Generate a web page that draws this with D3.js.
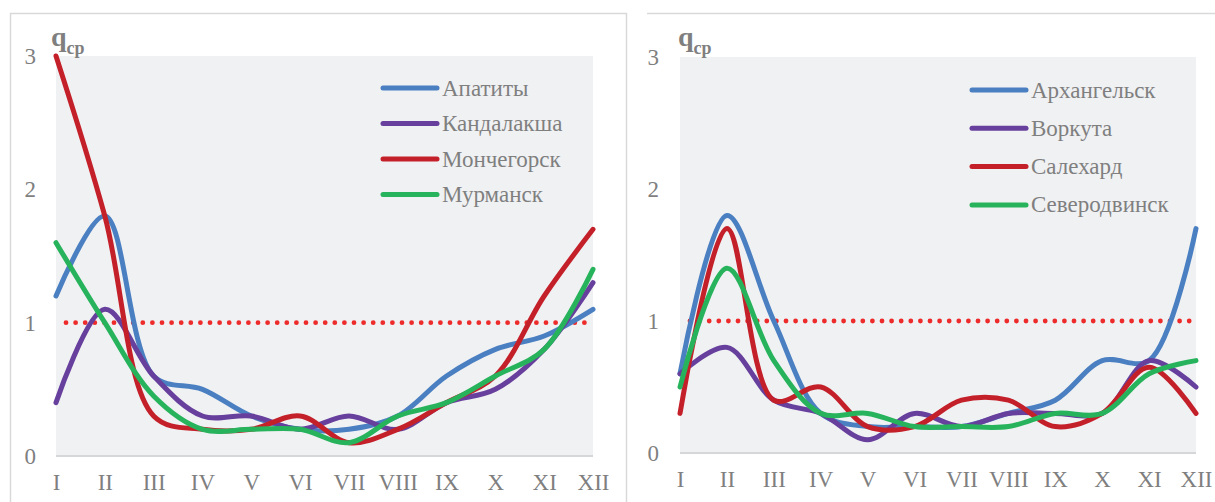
<!DOCTYPE html>
<html>
<head>
<meta charset="utf-8">
<script src="https://cdn.jsdelivr.net/npm/d3@7"></script>
<style>
  html, body { margin: 0; padding: 0; background: #ffffff; }
  svg { display: block; }
  text { font-family: "Liberation Serif", "Times New Roman", serif; fill: #7f7f7f; }
</style>
</head>
<body>
<svg id="chart" width="1215" height="502"></svg>
<script>
// ---- data ----
const months = ["I", "II", "III", "IV", "V", "VI", "VII", "VIII", "IX", "X", "XI", "XII"];
const yTicks = [0, 1, 2, 3];
const threshold = 1;

// left chart (Murmansk region)
const leftNames = ["Апатиты", "Кандалакша", "Мончегорск", "Мурманск"];
const apatity     = [1.2, 1.8, 0.6, 0.5, 0.3, 0.2, 0.2, 0.3, 0.6, 0.8, 0.9, 1.1];
const kandalaksha = [0.4, 1.1, 0.6, 0.3, 0.3, 0.2, 0.3, 0.2, 0.4, 0.5, 0.8, 1.3];
const monchegorsk = [3.0, 1.8, 0.3, 0.2, 0.2, 0.3, 0.1, 0.2, 0.4, 0.6, 1.2, 1.7];
const murmansk    = [1.6, 1.0, 0.45, 0.2, 0.2, 0.2, 0.1, 0.3, 0.4, 0.6, 0.8, 1.4];

// right chart (Arkhangelsk region etc.)
const rightNames = ["Архангельск", "Воркута", "Салехард", "Северодвинск"];
const arkhangelsk  = [0.6, 1.8, 1.0, 0.3, 0.2, 0.2, 0.2, 0.3, 0.4, 0.7, 0.7, 1.7];
const vorkuta      = [0.6, 0.8, 0.4, 0.3, 0.1, 0.3, 0.2, 0.3, 0.3, 0.3, 0.7, 0.5];
const salekhard    = [0.3, 1.7, 0.4, 0.5, 0.2, 0.2, 0.4, 0.4, 0.2, 0.3, 0.65, 0.3];
const severodvinsk = [0.5, 1.4, 0.7, 0.3, 0.3, 0.2, 0.2, 0.2, 0.3, 0.3, 0.6, 0.7];

const colors = ["#4a7fc1", "#673f9c", "#c4202a", "#27b35c"];

// ---- drawing ----
const svg = d3.select("#chart");

// frames
svg.append("rect")
  .attr("x", 10.5).attr("y", 13.5).attr("width", 616).attr("height", 520)
  .attr("fill", "none").attr("stroke", "#d9d9d9").attr("stroke-width", 1.5);
svg.append("line")
  .attr("x1", 647).attr("x2", 1215).attr("y1", 13.5).attr("y2", 13.5)
  .attr("stroke", "#d9d9d9").attr("stroke-width", 1.5);

function drawChart(cfg) {
  const g = svg.append("g");
  const x = d3.scalePoint().domain(months).range([cfg.x0, cfg.x1]).padding(0);
  const y = d3.scaleLinear().domain([0, 3]).range([cfg.yBottom, cfg.yTop]);

  // plot background
  g.append("rect")
    .attr("x", cfg.x0).attr("y", cfg.yTop)
    .attr("width", cfg.x1 - cfg.x0).attr("height", cfg.yBottom - cfg.yTop)
    .attr("fill", "#f0f1f3");

  // baseline
  g.append("line")
    .attr("x1", cfg.x0).attr("x2", cfg.x1)
    .attr("y1", y(0)).attr("y2", y(0))
    .attr("stroke", "#d6d7d9").attr("stroke-width", 2);

  // x axis
  const xAxis = g.append("g")
    .attr("transform", `translate(0,${y(0)})`)
    .call(d3.axisBottom(x).tickSize(0).tickPadding(18));
  xAxis.select(".domain").remove();
  xAxis.selectAll("text")
    .attr("font-size", 23)
    .attr("font-family", "Liberation Serif, Times New Roman, serif")
    .attr("fill", "#7f7f7f");

  // y axis
  const yAxis = g.append("g")
    .attr("transform", `translate(${cfg.x0},0)`)
    .call(d3.axisLeft(y).tickValues(yTicks).tickFormat(d3.format("d")).tickSize(0).tickPadding(cfg.yPad));
  yAxis.select(".domain").remove();
  yAxis.selectAll("text")
    .attr("font-size", 23)
    .attr("font-family", "Liberation Serif, Times New Roman, serif")
    .attr("fill", "#7f7f7f");

  // threshold dotted line
  g.append("line")
    .attr("x1", cfg.x0 + 10).attr("x2", cfg.x1 - 6)
    .attr("y1", y(threshold)).attr("y2", y(threshold))
    .attr("stroke", "#ee2b2b").attr("stroke-width", 4.8)
    .attr("stroke-linecap", "round")
    .attr("stroke-dasharray", "0 9.6");

  // series lines
  const line = d3.line()
    .x((d, i) => x(months[i]))
    .y(d => y(d))
    .curve(d3.curveCatmullRom.alpha(0.5));

  cfg.series.forEach((s, k) => {
    g.append("path")
      .datum(s)
      .attr("d", line)
      .attr("fill", "none")
      .attr("stroke", colors[k])
      .attr("stroke-width", 5)
      .attr("stroke-linejoin", "round")
      .attr("stroke-linecap", "round");
  });

  // title q_cp
  const t = g.append("text")
    .attr("x", cfg.titleX).attr("y", 46)
    .attr("font-weight", "bold")
    .attr("fill", "#7f7f7f");
  t.append("tspan").attr("font-size", 28).text("q");
  t.append("tspan").attr("font-size", 18).attr("dy", 8).text("ср");

  // legend
  const lg = g.append("g");
  cfg.names.forEach((name, k) => {
    const ly = cfg.legY + k * cfg.legStep;
    lg.append("line")
      .attr("x1", cfg.legX).attr("x2", cfg.legX + 54)
      .attr("y1", ly).attr("y2", ly)
      .attr("stroke", colors[k]).attr("stroke-width", 5)
      .attr("stroke-linecap", "round");
    lg.append("text")
      .attr("x", cfg.legX + 59).attr("y", ly)
      .attr("dy", "0.33em")
      .attr("font-size", 23)
      .attr("fill", "#7f7f7f")
      .text(name);
  });
}

drawChart({
  x0: 56, x1: 593, yTop: 56, yBottom: 456, yPad: 20,
  series: [apatity, kandalaksha, monchegorsk, murmansk],
  names: leftNames,
  legX: 383, legY: 88, legStep: 35.5,
  titleX: 51
});

drawChart({
  x0: 680, x1: 1196, yTop: 57, yBottom: 453, yPad: 21,
  series: [arkhangelsk, vorkuta, salekhard, severodvinsk],
  names: rightNames,
  legX: 972, legY: 90, legStep: 38.3,
  titleX: 678
});
</script>
</body>
</html>
